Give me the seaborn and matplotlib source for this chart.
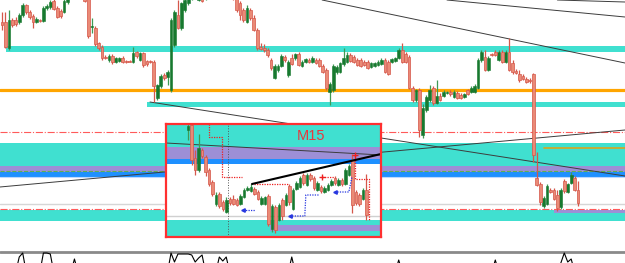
import numpy as np
import pandas as pd
import seaborn as sns
import matplotlib
matplotlib.use("Agg")
import matplotlib.pyplot as plt

sns.set_theme(style="white")
plt.rcParams['font.family'] = ['Liberation Sans', 'DejaVu Sans']

# ---- H1 candles (price in chart rows, smaller value = higher price) ----
h1_open = [22, 22, 48, 20, 20, 22, 15, 5, 12, 16, 22, 20, 21, 8, 7, 1, 8, 11, 12, 2,
           -8, -15, -18, -10, -2, -1, 27, 28, 43, 47, 57, 60, 56, 62, 61, 58, 61, 61, 62, 52,
           60, 53, 61, 61, 62, 98, 86, 75, 77, 90, 45, 15, 28, 10, 3, -2, -6, 0, -1, -5,
           -8, -12, -15, -12, -10, -8, -6, -4, -3, 3, 10, 22, 10, 18, 30, 47, 48, 50, 60, 78,
           70, 66, 57, 75, 58, 58, 54, 66, 62, 60, 62, 60, 60, 66, 70, 92, 90, 72, 72, 64,
           62, 55, 57, 60, 60, 62, 62, 67, 66, 65, 64, 60, 62, 62, 61, 58, 50, 54, 57, 88,
           100, 90, 135, 110, 100, 88, 103, 96, 96, 93, 92, 97, 93, 95, 97, 90, 92, 92, 88, 60,
           57, 70, 54, 52, 60, 52, 62, 52, 63, 71, 74, 76, 79, 80, 74, 178, 184, 206, 204, 190,
           190, 195, 207, 181, 192, 183, 178, 190]
h1_high = [12, 12, 10, 18, 17, 13, 3, 4, 10, 14, 17, 19, 6, 4, 0, -2, 6, 9, -3, -12,
           -20, -25, -22, -14, -4, -4, 18, 26, 42, 45, 55, 54, 54, 57, 57, 56, 60, 60, 47, 51,
           52, 52, 60, 60, 60, 84, 74, 73, 70, 18, 10, 0, 2, -2, -5, -8, -12, -8, -3, -10,
           -15, -18, -20, -16, -14, -12, -10, -8, -5, 1, 8, 5, 8, 15, 28, 43, 44, 48, 58, 64,
           64, 54, 55, 60, 54, 53, 52, 60, 58, 58, 56, 58, 58, 64, 68, 82, 64, 65, 62, 48,
           52, 53, 55, 58, 58, 60, 60, 62, 62, 60, 58, 58, 60, 58, 57, 48, 43, 52, 55, 86,
           89, 88, 104, 95, 85, 86, 80, 93, 90, 91, 90, 90, 91, 93, 93, 89, 86, 84, 58, 50,
           50, 56, 53, 50, 50, 50, 50, 38, 60, 69, 70, 74, 77, 78, 73, 152, 182, 196, 184, 188,
           188, 190, 188, 179, 183, 172, 176, 181]
h1_low = [30, 48, 50, 27, 26, 24, 17, 14, 19, 28, 23, 22, 22, 10, 9, 10, 18, 18, 13, 4,
          -6, -12, -8, -2, 2, 38, 33, 46, 50, 60, 59, 62, 64, 63, 62, 63, 63, 62, 63, 58,
          61, 67, 66, 63, 102, 100, 88, 80, 85, 92, 47, 29, 30, 12, 5, 0, -2, 1, 2, 0,
          -5, -10, -10, -8, -6, -4, -2, 0, 12, 20, 22, 23, 20, 31, 50, 50, 52, 57, 70, 79,
          72, 67, 62, 77, 65, 60, 66, 67, 63, 63, 63, 64, 67, 73, 90, 105, 92, 74, 73, 66,
          63, 62, 63, 66, 67, 66, 69, 68, 67, 66, 65, 73, 75, 63, 62, 59, 63, 63, 89, 102,
          102, 137, 138, 112, 102, 105, 104, 101, 97, 94, 96, 98, 99, 99, 98, 95, 93, 93, 89, 62,
          71, 71, 56, 56, 61, 63, 63, 71, 74, 74, 82, 80, 83, 83, 162, 186, 205, 208, 205, 193,
          200, 211, 209, 193, 193, 184, 191, 206]
h1_close = [25, 47, 20, 25, 24, 15, 5, 12, 17, 22, 19, 21, 8, 6, 2, 9, 17, 16, 1, -10,
            -15, -20, -10, -4, 1, 36, 26, 44, 48, 58, 58, 56, 62, 58, 58, 62, 62, 62, 53, 56,
            53, 65, 64, 62, 86, 85, 76, 78, 72, 20, 12, 28, 3, 0, -2, -6, -10, -5, 1, -8,
            -12, -15, -12, -10, -8, -6, -4, -2, 10, 15, 20, 8, 18, 30, 48, 49, 50, 55, 68, 66,
            66, 56, 60, 62, 64, 54, 65, 62, 59, 62, 58, 63, 66, 72, 88, 84, 66, 67, 63, 58,
            55, 61, 62, 65, 66, 65, 68, 63, 63, 62, 60, 72, 74, 59, 58, 50, 62, 62, 88, 100,
            90, 130, 108, 97, 90, 103, 96, 100, 92, 92, 94, 92, 98, 98, 94, 94, 88, 86, 60, 52,
            70, 58, 55, 55, 52, 62, 52, 70, 72, 73, 80, 79, 82, 81, 155, 185, 202, 198, 186, 192,
            199, 208, 190, 191, 184, 175, 190, 203]
h1_bar = list(range(len(h1_open)))

# lower indicator window (only the parts that poke into view)
ind_bar = [0, 4, 5, 6, 7, 11, 12, 13, 14, 15, 20, 21, 22, 48, 49, 50, 51, 52, 53, 54, 55, 56, 57,
           58, 59, 62, 63, 64, 65, 66, 83, 84, 85, 114, 115, 116, 142, 143, 144, 161, 162, 163,
           164, 165, 166, 167]
ind_val = [272, 272, 257, 253, 272, 272, 253, 253, 254, 272, 272, 259, 272, 272, 253, 262, 254,
           254, 254, 254, 255, 262, 258, 255, 272, 272, 257, 261, 257, 272, 272, 257, 272, 272,
           260, 272, 272, 260, 272, 272, 263, 253, 262, 259, 272, 272]

# zones and levels on H1
zone_top = [46, 102, 143, 166, 172, 210, 210]
zone_bot = [52, 107, 166, 172, 176.5, 221, 212.5]
zone_start = [1.2, 42, -1, -1, -1, -1, 160]
zone_kind = ['supply', 'supply', 'supply', 'mid', 'blue', 'supply', 'mid']
orange_level = 90
dashdot_levels = [132, 208.5]
green_level = 170.5
gray_level = 204
gold_level, gold_start = 148, 157

# trendlines (bar, price) -> (bar, price)
trend_x0 = [-0.6, 42.9, 92.8, 129.0, 161.0]
trend_y0 = [187, 102, 0, 0, 0]
trend_x1 = [180.6, 180.6, 180.6, 180.6, 180.6]
trend_y1 = [130, 176, 63, 17, 2]

# ---- M15 inset candles ----
m15_open = [130, 125, 158, 170, 150, 157, 170, 182, 204, 194, 202, 212, 199, 199, 200, 204, 197,
            190, 191, 189, 192, 204, 204, 196, 229, 207, 220, 200, 205, 186, 209, 189, 187, 175,
            185, 175, 178, 190, 187, 192, 190, 185, 178, 185, 180, 184, 175, 160, 192, 195, 199, 190]
m15_high = [122, 122, 150, 134, 148, 155, 168, 180, 192, 192, 200, 197, 197, 195, 198, 194, 188,
            186, 184, 187, 190, 196, 196, 194, 204, 205, 203, 198, 193, 184, 188, 181, 176, 173,
            173, 173, 176, 181, 185, 186, 183, 179, 176, 178, 178, 168, 164, 154, 190, 193, 188, 174]
m15_low = [140, 165, 175, 172, 158, 176, 186, 196, 206, 208, 211, 213, 205, 205, 206, 205, 198,
           191, 192, 195, 200, 205, 205, 226, 232, 233, 221, 220, 206, 205, 210, 190, 188, 185,
           186, 181, 190, 191, 193, 193, 191, 186, 185, 186, 186, 185, 176, 213, 205, 206, 200, 220]
m15_close = [126, 160, 170, 148, 156, 172, 184, 194, 195, 206, 209, 200, 203, 204, 205, 196, 190,
             188, 187, 194, 199, 198, 197, 224, 206, 230, 205, 216, 195, 202, 190, 183, 178, 183,
             175, 179, 188, 183, 191, 188, 185, 181, 183, 180, 184, 170, 166, 205, 203, 204, 190, 215]
m15_bar = list(range(len(m15_open)))

m15_trend_x = [18.3, 55.2]
m15_trend_y = [184, 154]
m15_gray_x = [-6.3, 55.2]
m15_gray_y = [143, 155]
m15_vline = 11.4
red_step_x = [6, 6, 9.8, 9.8, 15.4]
red_step_y = [124, 136.5, 136.5, 177, 177]
red_seg2_x, red_seg2_y = [19, 28.6], [183.5, 183.5]
red_seg3_x, red_seg3_y = [38.3, 41.7], [177, 177]
red_step4_x = [47.7, 47.7, 51.7, 51.7]
red_step4_y = [155, 179, 179, 220]
blue1_x, blue1_y = [15.7, 19.1], [210, 210]
blue2_x = [29.1, 33.4, 33.7, 37.4]
blue2_y = [216, 216, 195, 195]
blue3_x = [42.0, 46.0, 46.9]
blue3_y = [192, 192, 177]

CYAN = '#40e0d0'
PURPLE = '#9d8fd6'
BLUE = '#1e90ff'
GREEN = '#17792f'
RED_FILL = '#ea8a76'
RED_EDGE = '#d5574a'
zone_colors = {'supply': CYAN, 'mid': PURPLE, 'blue': BLUE}


def draw_candles(ax, bars, o, h, l, c, width):
    df = pd.DataFrame({'bar': bars, 'o': o, 'h': h, 'l': l, 'c': c})
    up = df[df['c'] < df['o']]
    dn = df[df['c'] >= df['o']]
    ax.vlines(up['bar'], up['h'], up['l'], color='#3f9a55', lw=0.9, zorder=4)
    ax.vlines(dn['bar'], dn['h'], dn['l'], color=RED_EDGE, lw=0.9, zorder=4)
    ax.bar(up['bar'], (up['o'] - up['c']).clip(lower=0.8), bottom=up['c'], width=width,
           color=GREEN, edgecolor=GREEN, lw=0.4, zorder=5)
    ax.bar(dn['bar'], (dn['c'] - dn['o']).clip(lower=0.8), bottom=dn['o'], width=width,
           color=RED_FILL, edgecolor=RED_EDGE, lw=0.5, zorder=5)


fig = plt.figure(figsize=(6.25, 2.63), dpi=100)
fig.patch.set_facecolor('white')
ax = fig.add_axes([0, 0, 1, 1])
ax.set_xlim(-0.58, 180.6)
ax.set_ylim(263, 0)
ax.axis('off')

for top, bot, start, kind in zip(zone_top, zone_bot, zone_start, zone_kind):
    ax.fill_between([start, 181], top, bot, color=zone_colors[kind], lw=0, zorder=1)
ax.axhline(orange_level, color='#ffa500', lw=2.3, zorder=2)
for lev in dashdot_levels:
    ax.axhline(lev, color='#ff5a5a', lw=0.8, ls='-.', zorder=2)
ax.axhline(green_level, color='#5fb04f', lw=0.8, ls='--', zorder=2)
ax.axhline(gray_level, color='#d6d6d6', lw=1.0, zorder=2)
ax.axhline(177, color='#bcd8ff', lw=0.8, zorder=2)
ax.plot([gold_start, 181], [gold_level, gold_level], color='#d9a520', lw=1.2, zorder=2)
for x0, y0, x1, y1 in zip(trend_x0, trend_y0, trend_x1, trend_y1):
    ax.plot([x0, x1], [y0, y1], color='#3c3c3c', lw=0.7, zorder=3)

draw_candles(ax, h1_bar, h1_open, h1_high, h1_low, h1_close, 0.8)

# indicator sub-window
ax.axhline(251.5, color='#8a8a8a', lw=2.0, zorder=6)
sns.lineplot(x=ind_bar, y=ind_val, ax=ax, color='black', lw=0.8, zorder=6)
ax.set_ylim(263, 0)
ax.axis('off')

# ---- M15 inset ----
ax2 = fig.add_axes([166 / 625, 26 / 263, 215 / 625, 113 / 263])
ax2.set_facecolor('white')
ax2.set_xlim(-6.3, 55.2)
ax2.set_ylim(237, 124)
ax2.set_xticks([])
ax2.set_yticks([])
for s in ax2.spines.values():
    s.set_color('#ff3030')
    s.set_linewidth(1.6)
    s.set_zorder(20)
ax2.axhspan(124, 147, color=CYAN, lw=0, zorder=1)
ax2.axhspan(147, 159, color=PURPLE, lw=0, zorder=1)
ax2.axhspan(159, 164, color=BLUE, lw=0, zorder=1)
ax2.axhspan(220, 237, color=CYAN, lw=0, zorder=1)
ax2.fill_between([23.4, 56], 225, 231, color=PURPLE, lw=0, zorder=1)
ax2.axhline(216, color='#d0d0d0', lw=1.0, zorder=2)
ax2.axvline(m15_vline, color='#555555', lw=0.7, ls=':', zorder=3)
ax2.plot(m15_gray_x, m15_gray_y, color='#3c3c3c', lw=0.7, zorder=3)

draw_candles(ax2, m15_bar, m15_open, m15_high, m15_low, m15_close, 0.75)

ax2.plot(red_step_x, red_step_y, color='#ee2020', lw=0.9, ls=(0, (1, 1)), zorder=6)
ax2.plot(red_seg2_x, red_seg2_y, color='#ee2020', lw=0.9, ls=(0, (1, 1)), zorder=6)
ax2.plot(red_seg3_x, red_seg3_y, color='#ee2020', lw=0.9, ls=(0, (1, 1)), zorder=6)
ax2.plot(red_step4_x, red_step4_y, color='#ee2020', lw=0.9, ls=(0, (1, 1)), zorder=6)
ax2.plot(red_seg3_x[0], red_seg3_y[0], marker='+', color='#ee2020', ms=4, zorder=7)
ax2.plot(red_step4_x[0], red_step4_y[0], marker='+', color='#ee2020', ms=4, zorder=7)
for bx, by in [(blue1_x, blue1_y), (blue2_x, blue2_y), (blue3_x, blue3_y)]:
    ax2.plot(bx, by, color='#2838e0', lw=0.9, ls=(0, (1, 1)), zorder=6)
    ax2.plot(bx[0], by[0], marker='<', color='#2838e0', ms=2.5, zorder=7)
ax2.plot(m15_trend_x, m15_trend_y, color='black', lw=1.5, zorder=8)
ax2.text(35.1, 136, 'M15', color='#e8383d', fontsize=10.5, ha='center', va='center', zorder=9)

fig.savefig('out.png', dpi=100, facecolor='white')
